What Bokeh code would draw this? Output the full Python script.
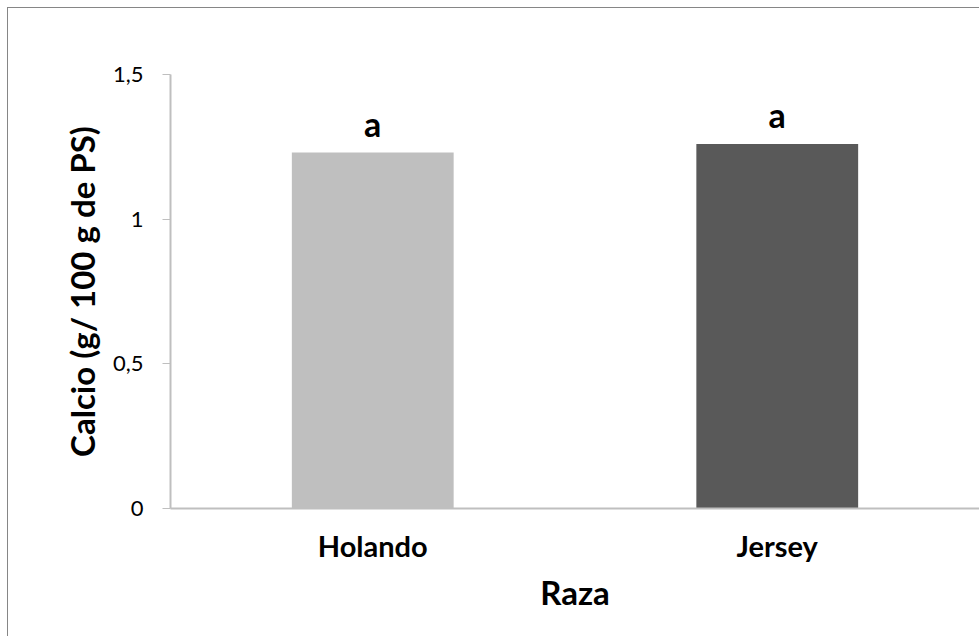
from bokeh.plotting import figure
from bokeh.models import Range1d, LabelSet, ColumnDataSource, FactorRange, FixedTicker
from bokeh.core.properties import value
from bokeh.embed import file_html
from bokeh.resources import INLINE

# ---- data ----
razas = ["Holando", "Jersey"]
calcio = [1.23, 1.26]
letras = ["a", "a"]
colores = ["#bfbfbf", "#595959"]
y_ticks = [0, 0.5, 1, 1.5]
y_tick_labels = ["0", "0,5", "1", "1,5"]
x_title = "Raza"
y_title = "Calcio (g/ 100 g de PS)"

FONT = "Lato"
AXIS_COLOR = "#bfbfbf"

src = ColumnDataSource(dict(raza=razas, calcio=calcio, letra=letras, color=colores))

p = figure(
    x_range=FactorRange(*razas, range_padding=0),
    y_range=Range1d(0, 1.5),
    width=979, height=636,
    output_backend="svg", toolbar_location=None,
    min_border_left=170, min_border_right=0,
    min_border_top=74, min_border_bottom=128,
)
# outer chart-area border (left and top edges visible, as in the reference)
p.styles = {
    "box-shadow": "inset 7px 7px 0 0 white, inset 8px 8px 0 0 #868686",
    "background-color": "white",
}
p.outline_line_color = None
p.background_fill_color = "white"
p.border_fill_alpha = 0
p.xgrid.grid_line_color = None
p.ygrid.grid_line_color = None

p.vbar(x="raza", top="calcio", width=0.4, fill_color="color", line_color=None, source=src)

labels = LabelSet(x="raza", y="calcio", text="letra", source=src, y_offset=16,
                  text_align="center", text_baseline="alphabetic",
                  text_font=value(FONT), text_font_size="34px", text_font_style="bold",
                  text_color="black")
p.add_layout(labels)

# y axis
p.yaxis.ticker = FixedTicker(ticks=y_ticks)
p.yaxis.major_label_overrides = {t: l for t, l in zip(y_ticks, y_tick_labels)}
p.yaxis.minor_tick_line_color = None
p.yaxis.major_tick_out = 8
p.yaxis.major_tick_in = 0
p.yaxis.major_tick_line_color = AXIS_COLOR
p.yaxis.axis_line_color = AXIS_COLOR
p.yaxis.axis_line_width = 2
p.yaxis.major_label_standoff = 19
p.yaxis.major_label_text_font = FONT
p.yaxis.major_label_text_font_size = "22px"
p.yaxis.major_label_text_color = "black"
p.yaxis.axis_label = y_title
p.yaxis.axis_label_text_font = FONT
p.yaxis.axis_label_text_font_size = "33px"
p.yaxis.axis_label_text_font_style = "bold"
p.yaxis.axis_label_text_color = "black"
p.yaxis.axis_label_standoff = 8

# x axis
p.xaxis.major_tick_out = 0
p.xaxis.major_tick_in = 0
p.xaxis.minor_tick_line_color = None
p.xaxis.axis_line_color = AXIS_COLOR
p.xaxis.axis_line_width = 2
p.xaxis.major_label_standoff = 19
p.xaxis.major_label_text_font = FONT
p.xaxis.major_label_text_font_size = "29px"
p.xaxis.major_label_text_font_style = "bold"
p.xaxis.major_label_text_color = "black"
p.xaxis.axis_label = x_title
p.xaxis.axis_label_text_font = FONT
p.xaxis.axis_label_text_font_size = "33px"
p.xaxis.axis_label_text_font_style = "bold"
p.xaxis.axis_label_text_color = "black"
p.xaxis.axis_label_standoff = 6

open("out.html", "w").write(file_html(p, INLINE))
